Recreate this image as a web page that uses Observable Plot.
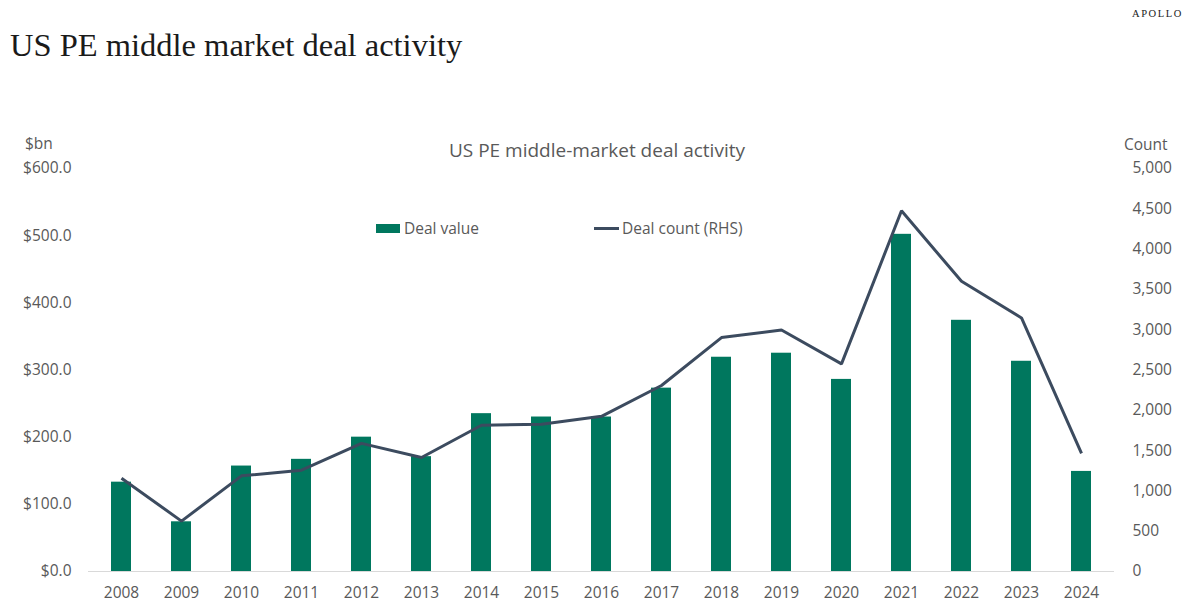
<!DOCTYPE html>
<html>
<head>
<meta charset="utf-8">
<script src="https://cdn.jsdelivr.net/npm/d3@7"></script>
<script src="https://cdn.jsdelivr.net/npm/@observablehq/plot@0.6"></script>
<style>
  html, body { margin: 0; padding: 0; background: #fff; }
  #wrap { position: relative; width: 1199px; height: 616px; overflow: hidden; font-family: "Open Sans", sans-serif; color: #595959; }
  .abs { position: absolute; white-space: nowrap; line-height: 1; }
  #title { left: 10px; top: 29px; font-family: "Liberation Serif", serif; font-size: 32.5px; color: #1a1a1a; }
  #brand { left: 1132px; top: 9px; font-family: "Liberation Serif", serif; font-size: 10.5px; letter-spacing: 1.6px; color: #1a1a1a; }
  #subtitle { left: 0; width: 1194px; text-align: center; top: 141px; font-size: 19px; }
  #unitL { left: 25px; top: 136px; font-size: 15.5px; }
  #unitR { left: 1124px; top: 137px; font-size: 15.5px; }
  .leg { top: 221px; font-size: 15.5px; display: flex; align-items: center; }
  .sw-bar { display: inline-block; width: 24px; height: 9px; background: #00775E; margin-right: 4px; }
  .sw-line { display: inline-block; width: 25px; height: 3px; background: #3C4B5F; margin-right: 3px; }
  #chart { position: absolute; left: 0; top: 0; }
</style>
</head>
<body>
<div id="wrap">
  <div id="chart"></div>
  <div class="abs" id="title">US PE middle market deal activity</div>
  <div class="abs" id="brand">APOLLO</div>
  <div class="abs" id="subtitle">US PE middle-market deal activity</div>
  <div class="abs" id="unitL">$bn</div>
  <div class="abs" id="unitR">Count</div>
  <div class="abs leg" style="left:376px"><span class="sw-bar"></span>Deal value</div>
  <div class="abs leg" style="left:594px"><span class="sw-line"></span>Deal count (RHS)</div>
</div>
<script>
const years = ["2008","2009","2010","2011","2012","2013","2014","2015","2016","2017","2018","2019","2020","2021","2022","2023","2024"];
const dealValue = [133, 74, 157, 167, 200, 171, 235, 230, 230, 273, 319, 325, 286, 502, 374, 313, 149];
const dealCount = [1158, 625, 1187, 1257, 1590, 1415, 1815, 1828, 1925, 2308, 2902, 2997, 2576, 4475, 3600, 3146, 1466];
const leftTicks = [0, 100, 200, 300, 400, 500, 600];
const rightTicks = [0, 500, 1000, 1500, 2000, 2500, 3000, 3500, 4000, 4500, 5000];

const leftMax = 600, rightMax = 5000;
const k = leftMax / rightMax;

const rows = years.map((year, i) => ({year, value: dealValue[i], count: dealCount[i], countScaled: dealCount[i] * k}));

const chart = Plot.plot({
  width: 1199,
  height: 616,
  marginLeft: 88,
  marginRight: 85,
  marginTop: 168,
  marginBottom: 45,
  style: {fontFamily: "'Open Sans', sans-serif", fontSize: "15.5px", color: "#595959", background: "transparent"},
  x: {type: "band", domain: years, paddingInner: 0.67, paddingOuter: 0.335},
  y: {domain: [0, leftMax]},
  marks: [
    Plot.ruleY([0], {stroke: "#D9D9D9", strokeWidth: 1.2}),
    Plot.barY(rows, {x: "year", y: "value", fill: "#00775E"}),
    Plot.line(rows, {x: "year", y: "countScaled", stroke: "#3C4B5F", strokeWidth: 3, strokeLinejoin: "miter", strokeLinecap: "butt"}),
    Plot.axisY({ticks: leftTicks, tickFormat: d => "$" + d.toFixed(1), tickSize: 0, tickPadding: 17, label: null}),
    Plot.axisY({anchor: "right", ticks: rightTicks.map(c => c * k), tickFormat: d => d3.format(",")(Math.round(d / k)), tickSize: 0, tickPadding: 18, label: null}),
    Plot.axisX({tickSize: 0, tickPadding: 15, label: null})
  ]
});
document.getElementById("chart").appendChild(chart);
</script>
</body>
</html>
